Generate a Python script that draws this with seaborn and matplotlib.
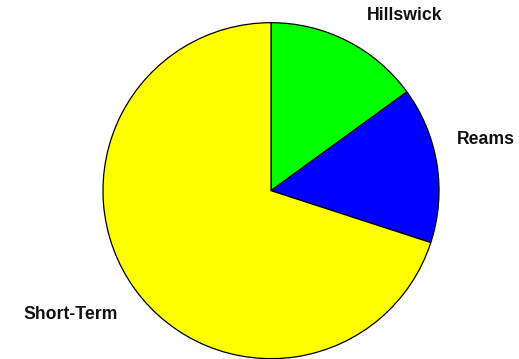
import matplotlib
matplotlib.use("Agg")
import matplotlib.pyplot as plt
import seaborn as sns

categories = ["Hillswick", "Reams", "Short-Term"]
values = [15, 15, 70]
colors = ["#00FF00", "#0000FF", "#FFFF00"]

sns.set_theme(style="white")
plt.rcParams['font.family'] = ['Liberation Sans', 'DejaVu Sans']

fig = plt.figure(figsize=(5.19, 3.59), dpi=100)
ax = fig.add_axes([0, 0, 1, 1])
wedges, texts = ax.pie(values, labels=categories, colors=colors, startangle=90,
                       counterclock=False, labeldistance=1.19,
                       wedgeprops=dict(edgecolor="black", linewidth=0.9),
                       textprops=dict(fontsize=12.7, fontweight="bold", color="#111111"))
# small nudges of label placement
nudges = {"Hillswick": (0.03, -0.015), "Reams": (-0.07, 0.12), "Short-Term": (0.05, -0.035)}
for t in texts:
    dx, dy = nudges[t.get_text()]
    x, y = t.get_position()
    t.set_position((x + dx, y + dy))

ax.set_xlim(-1.613, 1.476)
ax.set_ylim(-1.002, 1.135)
ax.set_aspect("auto")
ax.axis("off")
fig.savefig("out.png", dpi=100)
